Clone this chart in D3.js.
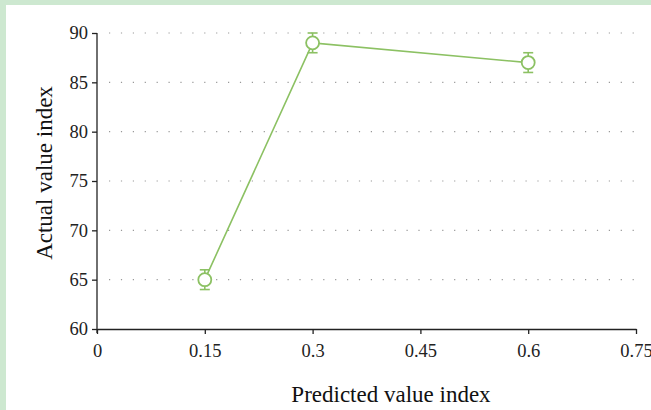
<!DOCTYPE html>
<html>
<head>
<meta charset="utf-8">
<script src="https://cdn.jsdelivr.net/npm/d3@7"></script>
<style>
  body { margin: 0; background: #cde8d0; }
  #chart { position: absolute; left: 0; top: 0; }
  text { font-family: "Liberation Serif", "Times New Roman", serif; }
</style>
</head>
<body>
<div id="chart"></div>
<script>
// Data
const predicted = [0.15, 0.3, 0.6];
const actual = [65, 89, 87];
const errors = [1, 1, 1];
const xTicks = [0, 0.15, 0.3, 0.45, 0.6, 0.75];
const yTicks = [60, 65, 70, 75, 80, 85, 90];

const width = 651, height = 410;
const margin = { top: 33, right: 15, bottom: 81, left: 97 };

const svg = d3.select("#chart")
  .append("svg")
  .attr("width", width)
  .attr("height", height);

// white panel over the green page background
svg.append("rect")
  .attr("x", 6)
  .attr("y", 5)
  .attr("width", width - 6)
  .attr("height", height - 5)
  .attr("fill", "#ffffff");

const x = d3.scaleLinear()
  .domain([0, 0.75])
  .range([margin.left, 636]);

const y = d3.scaleLinear()
  .domain([60, 90])
  .range([height - margin.bottom, margin.top]);

const font = "Liberation Serif, Times New Roman, serif";

// dotted grid lines
svg.append("g")
  .selectAll("line")
  .data(yTicks.filter(d => d > 60))
  .enter()
  .append("line")
  .attr("x1", margin.left + 12)
  .attr("x2", 636)
  .attr("y1", d => y(d))
  .attr("y2", d => y(d))
  .attr("stroke", "#999")
  .attr("stroke-width", 1.2)
  .attr("stroke-dasharray", "1.2,10.7");

// x axis
const xAxis = svg.append("g")
  .attr("transform", `translate(0, ${y(60)})`)
  .call(d3.axisBottom(x).tickValues(xTicks).tickSize(5).tickSizeOuter(0)
    .tickFormat(d => d3.format("")(d)));
xAxis.select(".domain").attr("stroke", "#222").attr("stroke-width", 1.3);
xAxis.selectAll(".tick line").attr("stroke", "#222").attr("stroke-width", 1.3);
xAxis.selectAll("text")
  .attr("dy", "1.1em")
  .style("font-family", font)
  .style("font-size", "18.5px")
  .attr("fill", "#222");

// y axis
const yAxis = svg.append("g")
  .attr("transform", `translate(${margin.left}, 0)`)
  .call(d3.axisLeft(y).tickValues(yTicks).tickSize(5).tickSizeOuter(0));
yAxis.select(".domain")
  .attr("stroke", "#222")
  .attr("stroke-width", 1.3)
  .attr("d", `M0,${y(90)}V${y(60) + 4}`);
yAxis.selectAll(".tick line").attr("stroke", "#222").attr("stroke-width", 1.3);
yAxis.selectAll("text")
  .attr("x", -9)
  .style("font-family", font)
  .style("font-size", "18.5px")
  .attr("fill", "#222");

// axis titles
svg.append("text")
  .attr("x", 391)
  .attr("y", 402)
  .attr("text-anchor", "middle")
  .attr("font-size", 23)
  .attr("fill", "#111")
  .text("Predicted value index");

svg.append("text")
  .attr("transform", "rotate(-90)")
  .attr("x", -(y(75)) + 8)
  .attr("y", 52)
  .attr("text-anchor", "middle")
  .attr("font-size", 23)
  .attr("fill", "#111")
  .text("Actual value index");

// line and markers
const points = predicted.map((p, i) => ({ p: p, a: actual[i], e: errors[i] }));
const green = "#8cc163";

svg.append("path")
  .datum(points)
  .attr("fill", "none")
  .attr("stroke", green)
  .attr("stroke-width", 1.6)
  .attr("d", d3.line().x(d => x(d.p)).y(d => y(d.a)));

const marks = svg.selectAll(".pt")
  .data(points)
  .enter()
  .append("g");

marks.append("line")
  .attr("x1", d => x(d.p))
  .attr("x2", d => x(d.p))
  .attr("y1", d => y(d.a + d.e))
  .attr("y2", d => y(d.a - d.e))
  .attr("stroke", green)
  .attr("stroke-width", 1.6);

marks.selectAll(".cap")
  .data(d => [d.a + d.e, d.a - d.e].map(v => ({ p: d.p, v: v })))
  .enter()
  .append("line")
  .attr("x1", d => x(d.p) - 5)
  .attr("x2", d => x(d.p) + 5)
  .attr("y1", d => y(d.v))
  .attr("y2", d => y(d.v))
  .attr("stroke", green)
  .attr("stroke-width", 1.6);

marks.append("circle")
  .attr("cx", d => x(d.p))
  .attr("cy", d => y(d.a))
  .attr("r", 6.5)
  .attr("fill", "#fff")
  .attr("stroke", green)
  .attr("stroke-width", 1.8);
</script>
</body>
</html>
